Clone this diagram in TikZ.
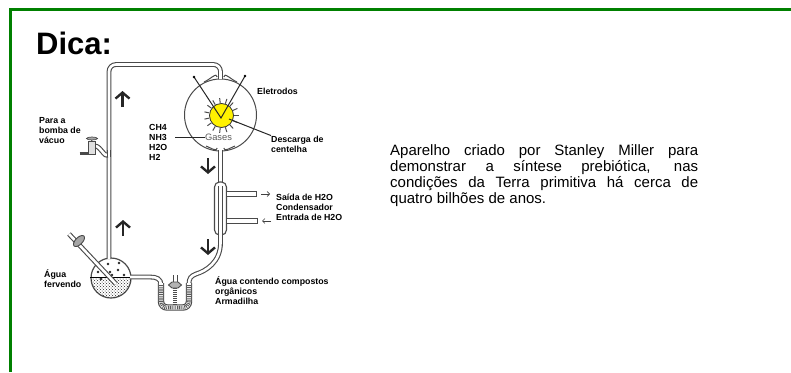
\documentclass[tikz,border=0pt]{standalone}
\usepackage{fontspec}
\setmainfont{Liberation Sans}
\usetikzlibrary{patterns,shapes.geometric,arrows.meta}
\definecolor{framegreen}{HTML}{008000}
\definecolor{glass}{HTML}{4A4A4A}
\tikzset{
  tube/.style={draw=glass,line width=1.1pt,double=white,double distance=2.6pt},
  sidetube/.style={draw=glass,line width=1.1pt,double=white,double distance=4.2pt},
  flow/.style={-{Straight Barb[length=6pt,width=14pt]},line width=2.4pt,draw=black!85},
  thinflow/.style={-{Straight Barb[length=2.5pt,width=5pt]},line width=.6pt,draw=black!75},
  lbl/.style={font=\fontsize{8.8}{10}\bfseries\selectfont,align=left,inner sep=0pt,anchor=west}
}
\begin{document}
\begin{tikzpicture}[x=1pt,y=-1pt]
    \useasboundingbox (0,0) rectangle (791,372);
    \draw [framegreen,line width=3pt] (10.5,372) -- (10.5,9.5) -- (791,9.5);
    \node (Title) [inner sep=0pt,anchor=west,font=\fontsize{31}{31}\bfseries\selectfont] at (36,43) {Dica:};

    \node (Bulb) [circle,draw=glass,line width=1pt,minimum size=72pt,inner sep=0pt] at (220.5,115) {};
    \node (Flask) [circle,draw=glass,line width=1.2pt,minimum size=40pt,inner sep=0pt] at (111,278) {};
    \begin{scope}
      \clip (111,278) circle (20);
      \fill [pattern=crosshatch dots,pattern color=black!85] (91,277) rectangle (131,298);
    \end{scope}
    \draw [line width=1pt] (Flask.west |- 0,277) -- (Flask.east |- 0,277);
    \foreach \px/\py in {108/264,119/263,118/270,98/272,101/279,110/272,124/275,112/275}
      \fill [black!85] (\px,\py) circle (1.4);

    \draw [tube,rounded corners=7pt] (109,259) -- (109,64.5) -- (220.5,64.5) -- (220.5,79);
    \draw [glass,line width=1pt] (217.2,77) to [out=90,in=20] (204,82);
    \draw [glass,line width=1pt] (223.8,77) to [out=90,in=160] (237,82);
    \draw [tube] (220.5,150) -- (220.5,184);
    \draw [glass,line width=1pt] (217.2,148) to [out=-90,in=-20] (206,146);
    \draw [glass,line width=1pt] (223.8,148) to [out=-90,in=-160] (235,146);

    \node (Condenser) [draw=glass,fill=white,line width=1.1pt,rounded corners=5pt,minimum width=12pt,minimum height=53pt,inner sep=0pt] at (220.5,208.5) {};
    \draw [tube] (220.5,186) -- (220.5,235);
    \draw [sidetube] (227,194) -- (256,194);
    \draw [sidetube] (227,221) -- (257,221);
    \draw [glass,line width=1pt] (256,190.8) -- (256,197.2);
    \draw [glass,line width=1pt] (257,217.8) -- (257,224.2);
    \coordinate (OutA) at (261,194);
    \coordinate (OutB) at (270,194);
    \coordinate (InA) at (271,221);
    \coordinate (InB) at (262,221);
    \path (OutA) edge [thinflow] (OutB);
    \path (InA) edge [thinflow] (InB);

    \draw [tube] (220.5,235) -- (220.5,243) .. controls (220.5,262) and (206,271) .. (196,274) .. controls (191,276) and (189,278) .. (189,284);
    \draw [tube] (130,277) -- (150,277) .. controls (157,277) and (161,279) .. (161,285);
    \draw [sidetube,rounded corners=6pt] (161,283) -- (161,307.5) -- (189,307.5) -- (189,283);
    \draw [black!65,line width=3.6pt,dash pattern=on .9pt off .9pt,rounded corners=6pt] (161,285) -- (161,307.5) -- (189,307.5) -- (189,285);
    \draw [glass,line width=1pt,double=white,double distance=3pt] (175,275) -- (175,284);
    \draw [black!70,line width=4pt,dash pattern=on 1pt off 1pt] (175,288) -- (175,305);
    \draw [fill=black!30,draw=glass,line width=.9pt] (168.5,285) -- (172,282) -- (178,282) -- (181.5,285) -- (178,288) -- (172,288) -- cycle;

    \draw [tube] (69,234) -- (116,284);
    \node (Stopcock) [ellipse,rotate=45,draw=glass,fill=black!35,line width=.9pt,minimum width=14pt,minimum height=7pt,inner sep=0pt] at (79,241) {};

    \draw [tube] (95,146) to [out=0,in=-120] (108,154);
    \draw [tube] (109,150) -- (109,157);
    \node (Cock) [draw=glass,fill=black!12,line width=.8pt,minimum width=7pt,minimum height=13pt,inner sep=0pt] at (91.5,148) {};
    \node (Handle) [ellipse,draw=glass,fill=black!35,line width=.7pt,minimum width=11pt,minimum height=3pt,inner sep=0pt] at (92,138.5) {};
    \draw [glass,line width=3pt] (79.5,153.5) -- (Cock.west |- 0,153.5);
    \draw [glass,line width=1pt] (Handle.south) -- (Cock.north);

    \node (Spark) [circle,fill=yellow,draw=black!80,line width=.8pt,minimum size=24pt,inner sep=0pt] at (221.5,115.5) {};
    \foreach \ang in {0,24,...,336}
      \draw [black!70,line width=1pt] (Spark.\ang) -- ++(\ang:5pt);
    \coordinate (Tip) at (221,118);
    \coordinate (TipL) at (194,77);
    \coordinate (TipR) at (245,76);
    \draw [black!85,line width=1pt] (TipL) -- (Tip) -- (TipR);
    \fill [black] (TipL) circle (1.4);
    \fill [black] (TipR) circle (1.4);

    \node (Gases) [inner sep=0pt,text=black!65,font=\fontsize{9.3}{10}\selectfont] at (218.5,137) {Gases};
    \coordinate (GasEnd) at (175,137);
    \draw [black!85,line width=.8pt] (GasEnd) -- (Gases.west);
    \coordinate (SparkEnd) at (229,119);
    \node (Discharge) [lbl] at (271,144) {Descarga de\\centelha};
    \draw [black!85,line width=1pt] (SparkEnd) -- (Discharge.north west);

    \node (Electrodes) [lbl] at (257,91) {Eletrodos};
    \node (Mix) [lbl] at (149,142) {CH4\\NH3\\H2O\\H2};
    \node (Pump) [lbl] at (39,131) {Para a\\bomba de\\vácuo};
    \node (Boil) [lbl] at (44,279) {Água\\fervendo};
    \node (Cond) [lbl] at (276,207) {Saída de H2O\\Condensador\\Entrada de H2O};
    \node (Trap) [lbl] at (215,291) {Água contendo compostos\\orgânicos\\Armadilha};

    \coordinate (UpA) at (122.5,107);
    \coordinate (UpB) at (122.5,91);
    \coordinate (UpC) at (123,236);
    \coordinate (UpD) at (123,220);
    \coordinate (DownA) at (208,158);
    \coordinate (DownB) at (208,174);
    \coordinate (DownC) at (208,239);
    \coordinate (DownD) at (208,255);
    \path (UpA) edge [flow] (UpB);
    \path (UpC) edge [flow] (UpD);
    \path (DownA) edge [flow] (DownB);
    \path (DownC) edge [flow] (DownD);

    \node (Note) [anchor=north west,inner sep=0pt,text width=308pt,align=justify,font=\fontsize{15}{16}\selectfont] at (390,144) {Aparelho criado por Stanley Miller para\linebreak demonstrar a síntese prebiótica, nas\linebreak condições da Terra primitiva há cerca de\linebreak quatro bilhões de anos.};
  \end{tikzpicture}
\end{document}
